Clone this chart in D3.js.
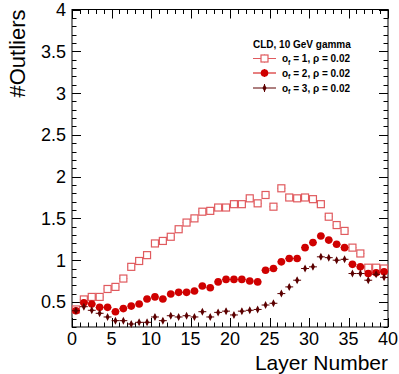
<!DOCTYPE html>
<html>
<head>
<meta charset="utf-8">
<script src="https://cdn.jsdelivr.net/npm/d3@7"></script>
<style>
  body { margin: 0; background: #fff; }
  text { font-family: "Liberation Sans", Arial, Helvetica, sans-serif; }
</style>
</head>
<body>
<div id="chart"></div>
<script>
// layer bins 0..39 (values at bin centres)
const layers = d3.range(40)

const outliersF1 = [0.41, 0.53, 0.56, 0.56, 0.655, 0.68, 0.78, 0.92, 0.99, 1.06,
  1.2, 1.23, 1.28, 1.37, 1.45, 1.5, 1.58, 1.59, 1.63, 1.63,
  1.67, 1.67, 1.74, 1.68, 1.78, 1.64, 1.86, 1.75, 1.74, 1.75,
  1.73, 1.67, 1.52, 1.42, 1.35, 1.15, 1.08, 0.91, 0.91, 0.9]
const outliersF2 = [0.395, 0.49, 0.475, 0.435, 0.435, 0.383, 0.42, 0.45, 0.475, 0.535,
  0.56, 0.535, 0.595, 0.615, 0.615, 0.63, 0.69, 0.67, 0.74, 0.77,
  0.77, 0.77, 0.75, 0.74, 0.88, 0.9, 0.98, 1.02, 1.02, 1.15,
  1.21, 1.29, 1.24, 1.19, 1.15, 0.95, 0.92, 0.84, 0.85, 0.86]
const outliersF3 = [0.395, 0.443, 0.4, 0.364, 0.32, 0.276, 0.276, 0.236, 0.256, 0.256,
  0.32, 0.276, 0.335, 0.32, 0.335, 0.32, 0.383, 0.32, 0.375, 0.39,
  0.344, 0.39, 0.4, 0.41, 0.463, 0.484, 0.6, 0.68, 0.76, 0.9,
  0.92, 1.04, 1.03, 1.0, 1.01, 0.84, 0.84, 0.76, 0.83, 0.795]

const seriesF = ['1', '2', '3']
const xTicks = [0, 5, 10, 15, 20, 25, 30, 35, 40]
const yTicks = [0.5, 1, 1.5, 2, 2.5, 3, 3.5, 4]

const W = 399, H = 374
const frame = { left: 72, right: 388, top: 9.5, bottom: 327 }

const svg = d3.select('#chart').append('svg')
  .attr('width', W).attr('height', H)

const x = d3.scaleLinear().domain([0, 40]).range([frame.left, frame.right])
const y = d3.scaleLinear().domain([0.2, 4]).range([frame.bottom, frame.top])

// frame
svg.append('rect')
  .attr('x', frame.left).attr('y', frame.top)
  .attr('width', frame.right - frame.left).attr('height', frame.bottom - frame.top)
  .attr('fill', 'none').attr('stroke', '#000').attr('stroke-width', 1)

// ticks on all four sides, pointing inward (ROOT style)
const xMinor = d3.range(0, 41, 1)
const yMinor = d3.range(0.2, 4.0001, 0.1).map(v => +v.toFixed(2))
const tickG = svg.append('g').attr('stroke', '#000').attr('stroke-width', 1)
xMinor.forEach(v => {
  const len = v % 5 === 0 ? 9 : 4.5
  const px = Math.round(x(v)) + 0.5
  tickG.append('line').attr('x1', px).attr('x2', px)
    .attr('y1', frame.bottom).attr('y2', frame.bottom - len)
  tickG.append('line').attr('x1', px).attr('x2', px)
    .attr('y1', frame.top).attr('y2', frame.top + len)
})
yMinor.forEach(v => {
  const major = Math.abs(v * 2 - Math.round(v * 2)) < 1e-6
  const len = major ? 9 : 4.5
  const py = Math.round(y(v)) + 0.5
  tickG.append('line').attr('y1', py).attr('y2', py)
    .attr('x1', frame.left).attr('x2', frame.left + len)
  tickG.append('line').attr('y1', py).attr('y2', py)
    .attr('x1', frame.right).attr('x2', frame.right - len)
})

// tick labels
svg.append('g').selectAll('text').data(xTicks).enter().append('text')
  .attr('x', d => x(d)).attr('y', 345)
  .attr('text-anchor', 'middle')
  .attr('font-size', 18)
  .text(d => d)
svg.append('g').selectAll('text').data(yTicks).enter().append('text')
  .attr('x', 66).attr('y', d => y(d) + 6.5)
  .attr('text-anchor', 'end')
  .attr('font-size', 18)
  .text(d => d)

// axis titles
svg.append('text')
  .attr('x', frame.right).attr('y', 370)
  .attr('text-anchor', 'end')
  .attr('font-size', 21)
  .text('Layer Number')
svg.append('text')
  .attr('transform', 'translate(25,' + frame.top + ') rotate(-90)')
  .attr('text-anchor', 'end')
  .attr('font-size', 22)
  .text('#Outliers')

// data
const colors = ['#e05a5e', '#cf0000', '#5c0000']
const allSeries = [outliersF1, outliersF2, outliersF3]
const errY = 0.03

function drawMarker(g, type, color) {
  if (type === 0) {
    g.append('rect').attr('x', -3.5).attr('y', -3.5).attr('width', 7).attr('height', 7)
      .attr('fill', '#fff').attr('stroke', color).attr('stroke-width', 1.2)
  } else if (type === 1) {
    g.append('circle').attr('r', 3.8).attr('fill', color)
  } else {
    g.append('path').attr('d', 'M0,-4L2,0L0,4L-2,0Z').attr('fill', color)
  }
}

allSeries.forEach((vals, s) => {
  const g = svg.append('g')
  layers.forEach((l, i) => {
    const cx = x(l + 0.5), cy = y(vals[i])
    const p = g.append('g').attr('transform', 'translate(' + cx + ',' + cy + ')')
    p.append('line').attr('x1', x(l) - cx).attr('x2', x(l + 1) - cx).attr('y1', 0).attr('y2', 0)
      .attr('stroke', colors[s]).attr('stroke-width', 1)
    p.append('line').attr('x1', 0).attr('x2', 0)
      .attr('y1', y(vals[i] + errY) - cy).attr('y2', y(vals[i] - errY) - cy)
      .attr('stroke', colors[s]).attr('stroke-width', 1)
    drawMarker(p, s, colors[s])
  })
})

// legend
const leg = svg.append('g')
leg.append('text')
  .attr('x', 253).attr('y', 48)
  .attr('font-size', 10).attr('font-weight', 'bold')
  .text('CLD, 10 GeV gamma')
const rowsY = [58.5, 73, 88]
seriesF.forEach((f, s) => {
  const row = leg.append('g').attr('transform', 'translate(0,' + rowsY[s] + ')')
  row.append('line').attr('x1', 253).attr('x2', 276).attr('y1', 0).attr('y2', 0)
    .attr('stroke', colors[s]).attr('stroke-width', 1)
  const m = row.append('g').attr('transform', 'translate(264.5,0)')
  m.append('line').attr('x1', 0).attr('x2', 0).attr('y1', -4).attr('y2', 4)
    .attr('stroke', colors[s]).attr('stroke-width', 1)
  drawMarker(m, s, colors[s])
  const t = row.append('text').attr('x', 282).attr('y', 3.5)
    .attr('font-size', 10).attr('font-weight', 'bold')
  t.append('tspan').text('o')
  t.append('tspan').attr('font-size', 7).attr('dy', 2.5).text('f')
  t.append('tspan').attr('dy', -2.5).text(' = ' + f + ', \u03c1 = 0.02')
})
</script>
</body>
</html>
